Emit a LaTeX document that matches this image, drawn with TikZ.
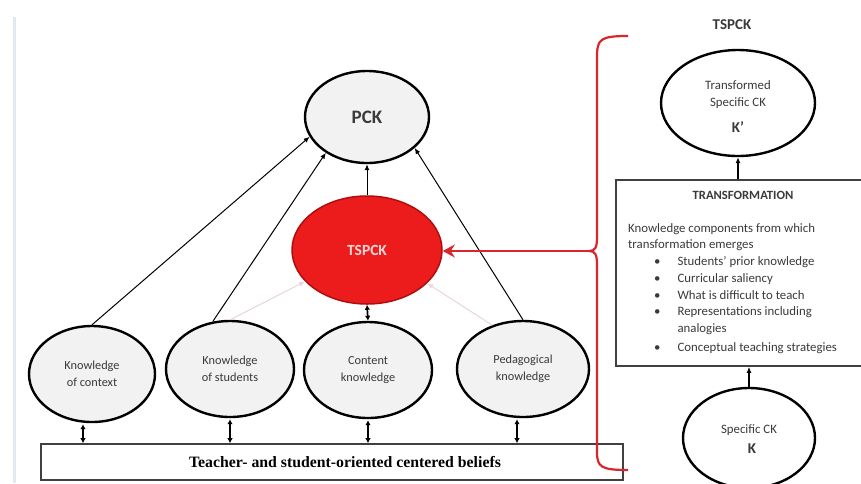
\documentclass[tikz,border=0pt]{standalone}
\usepackage{fontspec}
\setmainfont{Carlito}
\newfontfamily\timesf{Liberation Serif}
\usetikzlibrary{shapes.geometric,arrows.meta,calc}
\definecolor{ellfill}{HTML}{F2F2F2}
\definecolor{txt}{HTML}{3A3A3A}
\definecolor{tred}{HTML}{EC1C1C}
\definecolor{tredborder}{HTML}{B00E0E}
\definecolor{bred}{HTML}{D9262B}
\definecolor{faint}{HTML}{EAD6DA}
\definecolor{edgeline}{HTML}{E2E9F0}
\begin{document}
\begin{tikzpicture}[x=1pt,y=-1pt,
  ell/.style={ellipse,draw=black,line width=2.4pt,fill=ellfill,inner sep=0pt,
    align=center,text=txt,font=\fontsize{12.3}{16.5}\selectfont},
  wellp/.style={ellipse,draw=black,line width=2.4pt,fill=white,inner sep=0pt,
    align=center,text=txt,font=\fontsize{12.8}{17}\selectfont},
  up/.style={-{Latex[length=6pt,width=5pt]},line width=1pt,black},
  dbl/.style={{Latex[length=5pt,width=5.5pt]}-{Latex[length=5pt,width=5.5pt]},line width=1.7pt,black},
  faintarr/.style={-{Latex[length=6pt,width=5pt]},line width=1pt,faint},
  boxst/.style={draw=black!75,line width=1.6pt,fill=white,inner sep=0pt}]
\useasboundingbox (0,0) rectangle (861,483);
\fill[white] (0,0) rectangle (861,483);
% faint left edge line
\draw[edgeline,line width=3pt] (14,17) -- (14,483);

% left part
\node[ell,minimum width=124pt,minimum height=92pt,font=\bfseries\fontsize{19}{22}\selectfont] (pck) at (367,117) {PCK};
\node[ellipse,draw=tredborder,line width=1.5pt,fill=tred,minimum width=150pt,minimum height=108pt,inner sep=0pt,
  text={rgb,255:red,250;green,215;blue,215},font=\bfseries\fontsize{15.5}{18}\selectfont] (tspck) at (367,250) {TSPCK};
\node[ell,minimum width=126pt,minimum height=96pt] (koc) at (92,374) {Knowledge\\of context};
\node[ell,minimum width=128pt,minimum height=96pt] (kos) at (230,369) {Knowledge\\of students};
\node[ell,minimum width=128pt,minimum height=96pt] (ck) at (368,370) {Content\\knowledge};
\node[ell,minimum width=132pt,minimum height=96pt] (pk) at (523,369) {Pedagogical\\knowledge};
\node[boxst,minimum width=582pt,minimum height=36pt,font=\timesf\bfseries\fontsize{15.8}{18}\selectfont] (beliefs) at (332,462) {\hspace*{26pt}Teacher- and student-oriented centered beliefs};

% faint arrows to TSPCK
\draw[faintarr] (kos.north) -- (tspck.207);
\draw[faintarr] (pk.125) -- (tspck.331);

% arrows to PCK
\draw[up] (koc.north) -- (pck.199);
\draw[up] (kos.110) -- (pck.221);
\draw[up] (pk.north) -- (pck.327);
\draw[up] (tspck.north) -- (pck.south);
\draw[dbl] (tspck.south) -- (ck.north);

% double arrows to beliefs
\draw[dbl] ($(koc.south)+(-9,1)$) -- ($(koc.south |- beliefs.north)+(-9,0)$);
\draw[dbl] ($(kos.south)+(0,1)$) -- (kos.south |- beliefs.north);
\draw[dbl] ($(ck.south)+(0,1)$) -- (ck.south |- beliefs.north);
\draw[dbl] ($(pk.south)+(-6,1)$) -- ($(pk.south |- beliefs.north)+(-6,0)$);

% red bracket and arrow
\coordinate (cusp) at (589,251);
\draw[bred,line width=2.2pt] (628,36) .. controls (601,36) and (597,39) .. (597,56) -- (597,237)
  .. controls (597,248) and (595,251) .. (cusp) .. controls (595,251) and (597,254) .. (597,265)
  -- (597,452) .. controls (597,467) and (601,470) .. (628,470);
\draw[bred,line width=2.8pt,-{Stealth[length=12pt,width=13pt,inset=4pt]}] (cusp) -- (tspck.east |- cusp);

% right part
\node[font=\bfseries\fontsize{15}{18}\selectfont,text=txt] (title) at (732,25) {TSPCK};
\node[wellp,minimum width=154pt,minimum height=106pt] (tk) at (738,103) {};
\node[text=txt,font=\fontsize{12.8}{17}\selectfont,align=center] (tktext) at (738,95) {Transformed\\Specific CK};
\node[text=txt,font=\bfseries\fontsize{15}{18}\selectfont] (tkk) at (738,127) {K’};

\node[draw=black!75,line width=1.6pt,fill=white,minimum width=250pt,minimum height=186pt,inner sep=0pt] (tbox) at (741,273) {};
\node[text=txt,font=\bfseries\fontsize{12.6}{15}\selectfont] (thead) at (743,195) {TRANSFORMATION};
\node[text=txt,font=\fontsize{12.8}{16.5}\selectfont,align=left,anchor=west,inner sep=0pt] (tcomp) at (628,237)
  {Knowledge components from which\\transformation emerges};
\node[text=txt,font=\fontsize{12.8}{16.9}\selectfont,align=left,anchor=north west,inner sep=0pt] (tlist) at (654,256)
  {\textbullet\hspace{17pt}Students’ prior knowledge\\
   \textbullet\hspace{17pt}Curricular saliency\\
   \textbullet\hspace{17pt}What is difficult to teach\\
   \textbullet\hspace{17pt}Representations including\\
   \hphantom{\textbullet\hspace{17pt}}analogies\\[2pt]
   \textbullet\hspace{17pt}Conceptual teaching strategies};

\node[wellp,minimum width=132pt,minimum height=100pt] (sck) at (749,438) {};
\node[text=txt,font=\fontsize{12.8}{17}\selectfont] (scktext) at (749,430) {Specific CK};
\node[text=txt,font=\bfseries\fontsize{15}{18}\selectfont] (sckk) at (752,449) {K};

\draw[up,line width=1.3pt] (tbox.north -| tk.south) -- (tk.south);
\draw[up,line width=1.3pt] (sck.north) -- (sck.north |- tbox.south);
\end{tikzpicture}
\end{document}
